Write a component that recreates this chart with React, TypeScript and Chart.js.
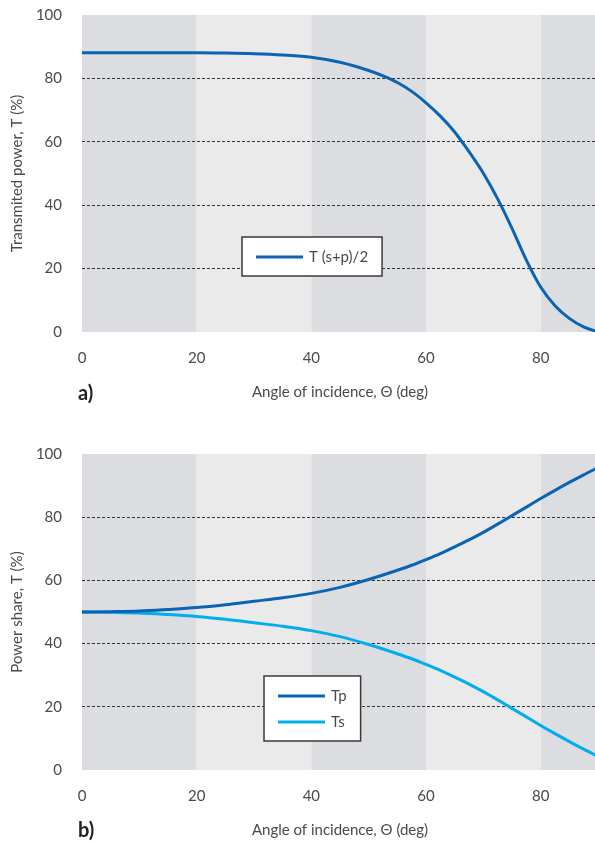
import React, { useEffect, useRef } from "react";
import Chart from "chart.js/auto";

// ---- data ----
const angles = [0, 5, 10, 15, 20, 25, 30, 35, 40, 45, 50, 52.5, 55, 57.5, 60, 62.5, 65, 67.5, 70, 72.5, 75, 77.5, 80, 82.5, 85, 87.5, 90];
const tAvg = [88.1, 88.1, 88.1, 88.1, 88.1, 88.0, 87.8, 87.4, 86.7, 85.1, 82.5, 80.8, 78.7, 75.9, 72.3, 68.1, 63.1, 56.9, 50.1, 42.0, 32.7, 22.7, 14.2, 8.3, 4.3, 1.6, 0];
const tp = [50.0, 50.1, 50.3, 50.8, 51.4, 52.3, 53.4, 54.5, 55.9, 57.8, 60.3, 61.7, 63.2, 64.8, 66.6, 68.5, 70.6, 72.8, 75.2, 77.8, 80.5, 83.2, 85.9, 88.5, 91.0, 93.4, 95.7];
const ts = [50.0, 49.9, 49.7, 49.2, 48.6, 47.7, 46.6, 45.5, 44.1, 42.2, 39.7, 38.3, 36.8, 35.2, 33.4, 31.5, 29.4, 27.2, 24.8, 22.2, 19.5, 16.8, 14.1, 11.5, 9.0, 6.6, 4.3];
const bandEdges = [0, 20, 40, 60, 80, 90];
const yTicks = [0, 20, 40, 60, 80, 100];
const xTitle = "Angle of incidence, Θ (deg)";

const FONT = "Lato";
const TEXT = "#4a4a4a";
const BAND_COLORS = ["#dcdde0", "#eaeaea"];

const bandPlugin = {
  id: "bands",
  beforeDraw(chart: any) {
    const { ctx, chartArea, scales } = chart;
    const x = scales.x;
    ctx.save();
    for (let i = 0; i < bandEdges.length - 1; i++) {
      const x0 = x.getPixelForValue(bandEdges[i]);
      const x1 = x.getPixelForValue(bandEdges[i + 1]);
      ctx.fillStyle = BAND_COLORS[i % 2];
      ctx.fillRect(x0, chartArea.top, x1 - x0, chartArea.bottom - chartArea.top);
    }
    ctx.restore();
  },
};

const boxLegendPlugin = {
  id: "boxLegend",
  afterDraw(chart: any, _args: any, opts: any) {
    const { ctx, chartArea } = chart;
    const ds = chart.data.datasets;
    ctx.save();
    ctx.font = `15px ${FONT}`;
    let maxW = 0;
    ds.forEach((d: any) => { maxW = Math.max(maxW, ctx.measureText(d.label).width); });
    const left = chartArea.left + opts.left;
    const top = chartArea.top + opts.top;
    const w = 14 + 47 + 6 + maxW + 14;
    const h = 13 + 26 * ds.length;
    ctx.fillStyle = "#ffffff";
    ctx.fillRect(left, top, w, h);
    ctx.strokeStyle = "#3a3a3a";
    ctx.lineWidth = 1.5;
    ctx.strokeRect(left, top, w, h);
    ds.forEach((d: any, i: number) => {
      const cy = top + 20 + 26 * i;
      ctx.strokeStyle = d.borderColor;
      ctx.lineWidth = 3;
      ctx.beginPath();
      ctx.moveTo(left + 14, cy);
      ctx.lineTo(left + 61, cy);
      ctx.stroke();
      ctx.fillStyle = TEXT;
      ctx.textBaseline = "middle";
      ctx.textAlign = "left";
      ctx.fillText(d.label, left + 67, cy);
    });
    ctx.restore();
  },
};

function makeConfig(datasets: any[], yTitle: string, topPad: number, xAxisH: number, titleBottom: number, legendPos: any) {
  return {
    type: "line",
    data: { datasets },
    options: {
      animation: false,
      responsive: false,
      layout: { padding: { top: topPad, right: 0, bottom: 0, left: 0 } },
      elements: { point: { radius: 0 } },
      scales: {
        x: {
          type: "linear",
          min: bandEdges[0],
          max: bandEdges[bandEdges.length - 1],
          ticks: { stepSize: 20, includeBounds: false, padding: 17, color: TEXT, font: { family: FONT, size: 15 } },
          grid: { display: false, drawTicks: false },
          border: { display: false },
          title: { display: true, text: xTitle, color: TEXT, font: { family: FONT, size: 15 }, padding: { top: 0, bottom: titleBottom } },
          afterFit(s: any) { s.height = xAxisH; s.paddingLeft = 0; s.paddingRight = 0; },
        },
        y: {
          min: yTicks[0],
          max: yTicks[yTicks.length - 1],
          afterBuildTicks(s: any) { s.ticks = yTicks.map((v) => ({ value: v })); },
          ticks: { padding: 20, color: TEXT, font: { family: FONT, size: 15 } },
          grid: {
            drawTicks: false,
            lineWidth: 1,
            color: (c: any) => (c.tick && (c.tick.value === 0 || c.tick.value === 100) ? "rgba(0,0,0,0)" : "#333333"),
          },
          border: { display: false, dash: [3, 2] },
          title: { display: true, text: yTitle, color: TEXT, font: { family: FONT, size: 15 }, padding: { top: 8, bottom: 0 } },
          afterFit(s: any) { s.width = 82; s.paddingTop = 0; s.paddingBottom = 0; },
        },
      },
      plugins: {
        legend: { display: false },
        tooltip: { enabled: false },
        boxLegend: legendPos,
      },
    },
    plugins: [bandPlugin, boxLegendPlugin],
  };
}

function Panel({ config, top, height }: any) {
  const ref = useRef<HTMLCanvasElement>(null);
  useEffect(() => {
    const chart = new Chart(ref.current as any, config);
    return () => chart.destroy();
  }, []);
  return (
    <canvas
      ref={ref}
      width={598}
      height={height}
      style={{ position: "absolute", left: 0, top, width: 598, height }}
    />
  );
}

const lineDs = (label: string, vals: number[], color: string) => ({
  label,
  data: angles.map((a, i) => ({ x: a, y: vals[i] })),
  borderColor: color,
  backgroundColor: color,
  borderWidth: 3,
  cubicInterpolationMode: "monotone",
  fill: false,
});

export default function App() {
  const cfgA = makeConfig([lineDs("T (s+p)/2", tAvg, "#0a64b4")], "Transmited power, T (%)", 15, 78, 9, { left: 160, top: 222 });
  const cfgB = makeConfig(
    [lineDs("Tp", tp, "#0a64b4"), lineDs("Ts", ts, "#00aeef")],
    "Power share, T (%)", 24, 73, 4, { left: 182, top: 222 }
  );
  const label = { position: "absolute" as const, left: 78, fontFamily: FONT, fontWeight: 700, fontSize: 20, color: "#222", lineHeight: "22px" };
  return (
    <div style={{ position: "absolute", left: 0, top: 0, width: 595, height: 843, overflow: "hidden", background: "#fff" }}>
      <Panel config={cfgA} top={0} height={410} />
      <Panel config={cfgB} top={430} height={413} />
      <div style={{ ...label, top: 381 }}>a)</div>
      <div style={{ ...label, top: 818 }}>b)</div>
    </div>
  );
}
